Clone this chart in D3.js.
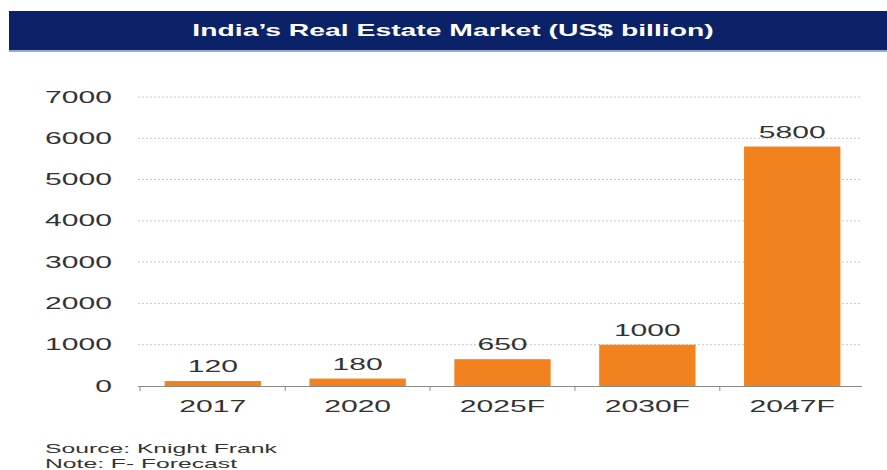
<!DOCTYPE html>
<html>
<head>
<meta charset="utf-8">
<script src="https://cdn.jsdelivr.net/npm/d3@7"></script>
<style>
  html, body { margin: 0; padding: 0; background: #ffffff; }
  svg { display: block; }
  text { font-family: "Liberation Sans", Arial, Helvetica, sans-serif; }
</style>
</head>
<body>
<svg id="chart" width="887" height="470"></svg>
<script>
// ---- data ----
const categories = ["2017", "2020", "2025F", "2030F", "2047F"];
const values = [120, 180, 650, 1000, 5800];
const yTicks = [0, 1000, 2000, 3000, 4000, 5000, 6000, 7000];
const titleText = "India\u2019s Real Estate Market (US$ billion)";
const footnotes = ["Source: Knight Frank", "Note: F- Forecast"];

// ---- drawing ----
const W = 887, H = 470;
const SX = 1.77; // horizontal stretch of the reference text
const svg = d3.select("#chart");

svg.append("rect").attr("x", 0).attr("y", 0).attr("width", W).attr("height", H).attr("fill", "#ffffff");

// title banner
svg.append("rect").attr("x", 9).attr("y", 11).attr("width", W - 9).attr("height", 39).attr("fill", "#0b2168");
svg.append("rect").attr("x", 9).attr("y", 50).attr("width", W - 9).attr("height", 2).attr("fill", "#9aa8d6");
svg.append("text")
  .attr("transform", `translate(453,36) scale(${SX},1)`)
  .attr("text-anchor", "middle")
  .attr("font-size", 16).attr("font-weight", "bold").attr("fill", "#ffffff")
  .text(titleText);

const x = d3.scaleBand().domain(categories).range([140, 865]).paddingInner(0.335).paddingOuter(0.17);
const y = d3.scaleLinear().domain([0, 7000]).range([386, 97]);

// gridlines
svg.append("g").selectAll("line").data(yTicks.filter(d => d > 0)).join("line")
  .attr("x1", 138).attr("x2", 862)
  .attr("y1", d => y(d)).attr("y2", d => y(d))
  .attr("stroke", "#c4c4c4").attr("stroke-width", 1).attr("stroke-dasharray", "2,2");

// y labels
svg.append("g").selectAll("text").data(yTicks).join("text")
  .attr("transform", d => `translate(112,${y(d) + 5.5}) scale(${SX},1)`)
  .attr("text-anchor", "end").attr("font-size", 17).attr("fill", "#333333")
  .text(d => d);

// bars
svg.append("g").selectAll("rect").data(values).join("rect")
  .attr("x", (d, i) => x(categories[i]))
  .attr("width", x.bandwidth())
  .attr("y", d => y(d))
  .attr("height", d => y(0) - y(d))
  .attr("fill", "#f2821f");

// x axis line and ticks
svg.append("line").attr("x1", 138).attr("x2", 862).attr("y1", y(0) + 0.5).attr("y2", y(0) + 0.5)
  .attr("stroke", "#8a8a8a").attr("stroke-width", 1);
const boundaries = categories.map(c => x(c) - x.step() * x.paddingInner() / 2);
boundaries[0] = x.range()[0];
svg.append("g").selectAll("line").data(boundaries).join("line")
  .attr("x1", d => d).attr("x2", d => d)
  .attr("y1", y(0)).attr("y2", y(0) + 5)
  .attr("stroke", "#8a8a8a").attr("stroke-width", 1);

// x labels
svg.append("g").selectAll("text").data(categories).join("text")
  .attr("transform", d => `translate(${x(d) + x.bandwidth() / 2},412) scale(${SX},1)`)
  .attr("text-anchor", "middle").attr("font-size", 17).attr("fill", "#333333")
  .text(d => d);

// value labels
svg.append("g").selectAll("text").data(values).join("text")
  .attr("transform", (d, i) => `translate(${x(categories[i]) + x.bandwidth() / 2},${y(d) - 9}) scale(${SX},1)`)
  .attr("text-anchor", "middle").attr("font-size", 17).attr("fill", "#333333")
  .text(d => d);

// footnotes
svg.append("g").selectAll("text").data(footnotes).join("text")
  .attr("transform", (d, i) => `translate(45,${453 + i * 15}) scale(1.9,1)`)
  .attr("font-size", 13).attr("fill", "#333333")
  .text(d => d);
</script>
</body>
</html>
